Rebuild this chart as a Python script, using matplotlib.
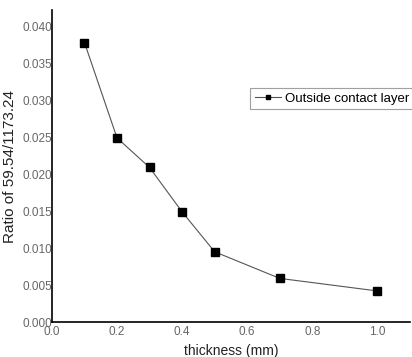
import matplotlib
matplotlib.use("Agg")
from matplotlib import pyplot as plt

plt.rcParams['font.family'] = ['Liberation Sans', 'DejaVu Sans']

thickness = [0.1, 0.2, 0.3, 0.4, 0.5, 0.7, 1.0]
ratio = [0.0378, 0.0249, 0.0209, 0.0149, 0.0095, 0.0059, 0.0042]
x_ticks = [0.0, 0.2, 0.4, 0.6, 0.8, 1.0]
y_ticks = [0.000, 0.005, 0.010, 0.015, 0.020, 0.025, 0.030, 0.035, 0.040]


def main():
    fig = plt.figure(figsize=(4.12, 3.57), dpi=100)
    ax = fig.add_axes([0.126, 0.098, 0.869, 0.874])

    ax.plot(thickness, ratio, color='#555555', linewidth=0.8,
            marker='s', markersize=6, markerfacecolor='black',
            markeredgecolor='black', label='Outside contact layer')

    ax.set_xlim(0.0, 1.1)
    ax.set_ylim(0.0, 0.0422)
    ax.set_xticks(x_ticks)
    ax.set_xticklabels([f'{t:.1f}' for t in x_ticks])
    ax.set_yticks(y_ticks)
    ax.set_yticklabels([f'{t:.3f}' for t in y_ticks])

    for side in ('top', 'right'):
        ax.spines[side].set_visible(False)
    for side in ('left', 'bottom'):
        ax.spines[side].set_linewidth(1.2)

    ax.tick_params(axis='both', length=0, labelsize=8.5, labelcolor='#666666')
    ax.tick_params(axis='y', pad=0)
    ax.tick_params(axis='x', pad=3)

    ax.set_xlabel('thickness (mm)', fontsize=10, color='#222222', labelpad=4)
    ax.set_ylabel('Ratio of 59.54/1173.24', fontsize=11, color='#222222',
                  labelpad=4)

    leg = ax.legend(loc='upper left', bbox_to_anchor=(0.553, 0.75),
                    borderaxespad=0, fancybox=False, fontsize=9.5,
                    handlelength=2.0, handletextpad=0.3, borderpad=0.35,
                    markerscale=0.6)
    leg.get_frame().set_edgecolor('#888888')
    leg.get_frame().set_linewidth(0.8)

    fig.savefig('out.png', dpi=100)


if __name__ == "__main__":
    main()
